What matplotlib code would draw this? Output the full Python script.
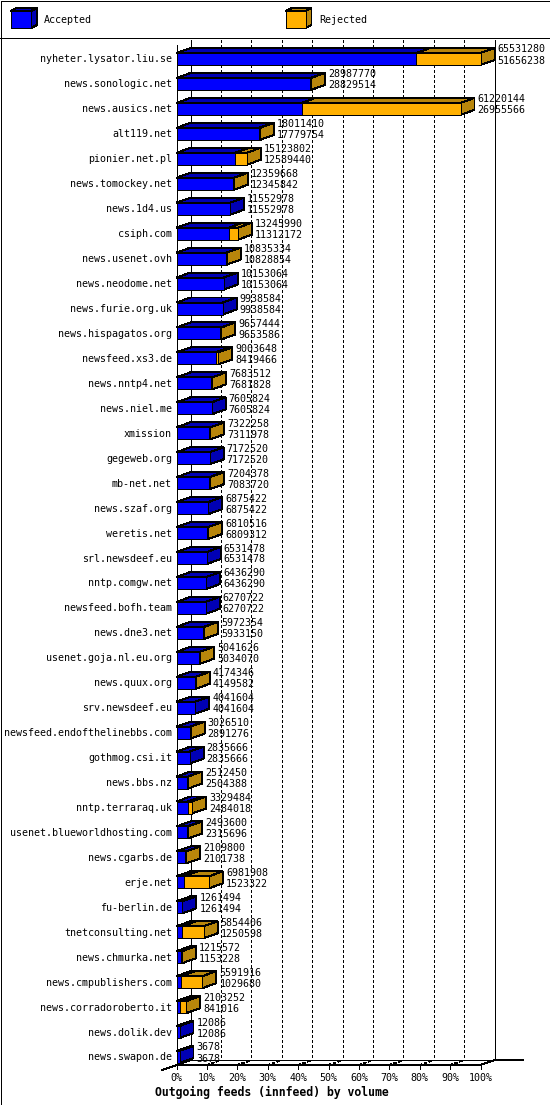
import matplotlib
matplotlib.use("Agg")
import matplotlib.pyplot as plt
from matplotlib.patches import Polygon, Rectangle

# data: host, total (accepted + rejected), accepted
hosts = [
    "nyheter.lysator.liu.se", "news.sonologic.net", "news.ausics.net", "alt119.net",
    "pionier.net.pl", "news.tomockey.net", "news.1d4.us", "csiph.com",
    "news.usenet.ovh", "news.neodome.net", "news.furie.org.uk", "news.hispagatos.org",
    "newsfeed.xs3.de", "news.nntp4.net", "news.niel.me", "xmission",
    "gegeweb.org", "mb-net.net", "news.szaf.org", "weretis.net",
    "srl.newsdeef.eu", "nntp.comgw.net", "newsfeed.bofh.team", "news.dne3.net",
    "usenet.goja.nl.eu.org", "news.quux.org", "srv.newsdeef.eu",
    "newsfeed.endofthelinebbs.com", "gothmog.csi.it", "news.bbs.nz",
    "nntp.terraraq.uk", "usenet.blueworldhosting.com", "news.cgarbs.de", "erje.net",
    "fu-berlin.de", "tnetconsulting.net", "news.chmurka.net", "news.cmpublishers.com",
    "news.corradoroberto.it", "news.dolik.dev", "news.swapon.de",
]
totals = [
    65531280, 28987770, 61220144, 18011410, 15123802, 12359668, 11552978, 13245990,
    10835334, 10153064, 9938584, 9657444, 9003648, 7683512, 7605824, 7322258,
    7172520, 7204378, 6875422, 6810516, 6531478, 6436290, 6270722, 5972354,
    5041626, 4174346, 4041604, 3026510, 2835666, 2512450, 3329484, 2493600,
    2109800, 6981908, 1261494, 5854406, 1215572, 5591916, 2103252, 12086, 3678,
]
accepted = [
    51656238, 28829514, 26955566, 17779754, 12589440, 12345842, 11552978, 11312172,
    10828854, 10153064, 9938584, 9653586, 8419466, 7681828, 7605824, 7311978,
    7172520, 7083720, 6875422, 6809312, 6531478, 6436290, 6270722, 5933150,
    5034070, 4149582, 4041604, 2891276, 2835666, 2504388, 2484018, 2315696,
    2101738, 1523322, 1261494, 1250598, 1153228, 1029680, 841016, 12086, 3678,
]
pct_ticks = list(range(0, 101, 10))

# colours
BLUE, BLUE_DK = "#0000ff", "#0000b4"
ORANGE, ORANGE_DK = "#ffb000", "#b8860b"
LW = 0.72  # one pixel

W, H = 550, 1105
fig = plt.figure(figsize=(W / 100, H / 100), dpi=100)
ax = fig.add_axes([0, 0, 1, 1])
ax.set_xlim(0, W)
ax.set_ylim(H, 0)
ax.axis("off")

mono = "DejaVu Sans Mono"
X0, X100 = 176.5, 480.5   # front 0% / 100%
DX, DY = 14, 5            # depth
TOP0, STEP, BH = 53, 24.95, 12
FLOOR = 1065
vmax = max(totals)


def px(v):
    return X0 + v / vmax * (X100 - X0)


def box(x0, x1, yt, h, front, dark, dx=DX, dy=DY, z=3):
    kw = dict(ec="black", lw=LW, antialiased=False, zorder=z)
    ax.add_patch(Polygon([(x0, yt), (x1, yt), (x1 + dx, yt - dy), (x0 + dx, yt - dy)], fc=dark, **kw))
    ax.add_patch(Polygon([(x1, yt), (x1 + dx, yt - dy), (x1 + dx, yt + h - dy), (x1, yt + h)], fc=dark, **kw))
    ax.add_patch(Rectangle((x0, yt), x1 - x0, h, fc=front, **kw))


# outer border and legend
ax.add_patch(Rectangle((0.5, 0.5), W - 1, H - 1, fc="none", ec="black", lw=LW, antialiased=False, zorder=10))
ax.plot([0, W], [37.5, 37.5], color="black", lw=LW, antialiased=False, zorder=10)
box(10.5, 31, 11, 17, BLUE, BLUE_DK, dx=6, dy=3)
ax.text(44, 20, "Accepted", fontsize=7.2, family=mono, va="center", ha="left")
box(286, 305.5, 11, 17, ORANGE, ORANGE_DK, dx=6, dy=3)
ax.text(319, 20, "Rejected", fontsize=7.2, family=mono, va="center", ha="left")

# back wall grid
for p in pct_ticks:
    xb = X0 + DX + p / 100 * (X100 - X0)
    if p in (0, 100):
        ax.plot([xb, xb], [40, FLOOR - DY], color="black", lw=LW, antialiased=False, zorder=1)
    else:
        ax.plot([xb, xb], [40, FLOOR - DY], color="black", lw=LW, ls=(0, (2.6, 2.6)),
                antialiased=False, zorder=1)
        ax.plot([xb - DX, xb], [FLOOR, FLOOR - DY], color="black", lw=LW, ls=(0, (2.6, 2.6)),
                antialiased=False, zorder=1)

# floor and front axis
ax.plot([X0, X0], [45, FLOOR], color="black", lw=LW, antialiased=False, zorder=2)
ax.plot([X0, X100, X100 + DX, 523], [FLOOR, FLOOR, FLOOR - DY, FLOOR - DY], color="black",
        lw=LW, antialiased=False, zorder=2)
ax.plot([X0 + DX, X100 + DX], [FLOOR - DY, FLOOR - DY], color="black", lw=LW, antialiased=False, zorder=2)
ax.plot([X0 - DX, X0 + DX], [FLOOR + DY, FLOOR - DY], color="black", lw=LW, antialiased=False, zorder=2)
for p in pct_ticks:
    xf = X0 + p / 100 * (X100 - X0)
    ax.plot([xf, xf], [FLOOR, FLOOR + 4], color="black", lw=LW, antialiased=False, zorder=2)
    ax.text(xf, 1078, f"{p}%", fontsize=7.2, family=mono, ha="center", va="center")

# bars
for i, (name, tot, acc) in enumerate(zip(hosts, totals, accepted)):
    yt = TOP0 + i * STEP
    xa = max(px(acc), X0 + 3)
    box(X0, xa, yt, BH, BLUE, BLUE_DK)
    xr = xa
    if tot > acc:
        xr = max(px(tot), xa)
        box(xa, xr, yt, BH, ORANGE, ORANGE_DK, z=4)
    ax.text(172, yt + 6.5, name, fontsize=7.2, family=mono, ha="right", va="center")
    ax.text(xr + DX + 3, yt - 3.5, str(tot), fontsize=7.2, family=mono, ha="left", va="center", zorder=6)
    ax.text(xr + DX + 3, yt + 7.5, str(acc), fontsize=7.2, family=mono, ha="left", va="center", zorder=6)

ax.text(155, 1092, "Outgoing feeds (innfeed) by volume", fontsize=8.3, family=mono,
        weight="bold", ha="left", va="center")

fig.savefig("out.png", dpi=100)
